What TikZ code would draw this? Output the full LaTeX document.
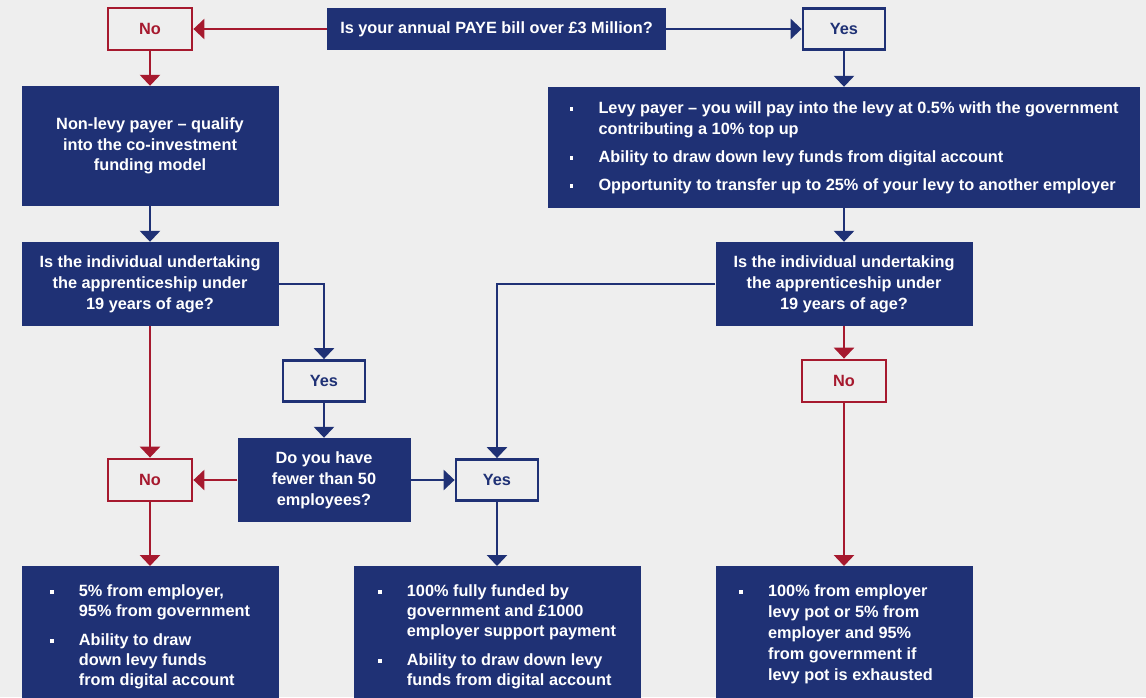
\documentclass[tikz,border=0pt]{standalone}
\usepackage{fontspec}
\setmainfont{Liberation Sans}
\usetikzlibrary{arrows.meta}
\definecolor{navy}{HTML}{1F3175}
\definecolor{levyred}{HTML}{A6192E}
\definecolor{paper}{HTML}{EEEEEE}
\newcommand{\sq}{\rule[2.5pt]{3.8pt}{3.8pt}}
\tikzset{
  every node/.style={font=\fontsize{16.3}{21}\selectfont\bfseries},
  qbox/.style={fill=navy, text=white, align=center, inner sep=0pt},
  nobox/.style={draw=levyred, line width=2.8pt, text=levyred, minimum width=84pt, minimum height=42pt, inner sep=0pt},
  yesbox/.style={draw=navy, line width=2.8pt, text=navy, minimum width=82pt, minimum height=41pt, inner sep=0pt},
  noline/.style={draw=levyred, line width=2.8pt, -{Triangle[width=20pt,length=11pt]}},
  yesline/.style={draw=navy, line width=2.8pt, -{Triangle[width=20pt,length=11pt]}},
}
\begin{document}
\begin{tikzpicture}[x=1pt, y=-1pt]
  \fill[paper] (0,0) rectangle (1146,697);
  \useasboundingbox (0,0) rectangle (1146,697);

  % top question
  \node[qbox, minimum width=339pt, minimum height=42pt] (paye) at (496.5,29) {Is your annual PAYE bill over £3 Million?};
  \node[nobox] (no1) at (150,29) {No};
  \node[yesbox] (yes1) at (844,29) {Yes};

  % levy / non-levy
  \node[qbox, minimum width=257pt, minimum height=120pt, font=\fontsize{16.3}{20.5}\selectfont\bfseries] (nonlevy) at (150,146) {Non-levy payer – qualify\\into the co-investment\\funding model};
  \node[qbox, minimum width=592pt, minimum height=121pt, align=left] (levy) at (844,147.5) {%
    \begin{tabular}{@{}p{29pt}@{}l@{}}
      \sq & Levy payer – you will pay into the levy at 0.5\% with the government\\
          & contributing a 10\% top up\\[7pt]
      \sq & Ability to draw down levy funds from digital account\\[7pt]
      \sq & Opportunity to transfer up to 25\% of your levy to another employer
    \end{tabular}};

  % age questions
  \node[qbox, minimum width=257pt, minimum height=84pt] (q1) at (150,284) {Is the individual undertaking\\the apprenticeship under\\19 years of age?};
  \node[qbox, minimum width=257pt, minimum height=84pt] (q2) at (844,284) {Is the individual undertaking\\the apprenticeship under\\19 years of age?};

  \node[yesbox] (yes2) at (324,381) {Yes};
  \node[nobox] (no3) at (844,381) {No};
  \node[qbox, minimum width=173pt, minimum height=84pt] (fewer) at (324,480) {Do you have\\fewer than 50\\employees?};
  \node[nobox] (no2) at (150,480) {No};
  \node[yesbox] (yes3) at (497,480) {Yes};

  % funding outcomes (cut off at the bottom)
  \node[qbox, anchor=north, minimum width=257pt, minimum height=141pt, align=left, font=\fontsize{16.3}{20}\selectfont\bfseries] (fund1) at (150,566) {%
    \begin{tabular}{@{}p{29pt}@{}l@{}}
      \sq & 5\% from employer,\\
          & 95\% from government\\[9pt]
      \sq & Ability to draw\\
          & down levy funds\\
          & from digital account
    \end{tabular}};
  \node[qbox, anchor=north, minimum width=287pt, minimum height=141pt, align=left, font=\fontsize{16.3}{20}\selectfont\bfseries] (fund2) at (497,566) {%
    \begin{tabular}{@{}p{29pt}@{}l@{}}
      \sq & 100\% fully funded by\\
          & government and £1000\\
          & employer support payment\\[9pt]
      \sq & Ability to draw down levy\\
          & funds from digital account
    \end{tabular}};
  \node[qbox, anchor=north, minimum width=257pt, minimum height=136pt, align=left] (fund3) at (844,566) {%
    \begin{tabular}{@{}p{29pt}@{}l@{\hspace{16pt}}}
      \sq & 100\% from employer\\
          & levy pot or 5\% from\\
          & employer and 95\%\\
          & from government if\\
          & levy pot is exhausted
    \end{tabular}};

  % connectors
  \draw[noline] (paye.west) -- (no1.east);
  \draw[yesline] (paye.east) -- (yes1.west);
  \draw[noline] (no1.south) -- (nonlevy.north);
  \draw[yesline] (yes1.south) -- (levy.north);
  \draw[yesline] (nonlevy.south) -- (q1.north);
  \draw[yesline] (levy.south) -- (q2.north);
  \draw[yesline] (q1.east) -| (yes2.north);
  \draw[noline] (q1.south) -- (no2.north);
  \draw[yesline] (yes2.south) -- (fewer.north);
  \draw[noline] (fewer.west) -- (no2.east);
  \draw[yesline] (fewer.east) -- (yes3.west);
  \draw[yesline] (q2.west) -| (yes3.north);
  \draw[noline] (q2.south) -- (no3.north);
  \draw[noline] (no2.south) -- (fund1.north);
  \draw[yesline] (yes3.south) -- (fund2.north);
  \draw[noline] (no3.south) -- (fund3.north);
\end{tikzpicture}
\end{document}
